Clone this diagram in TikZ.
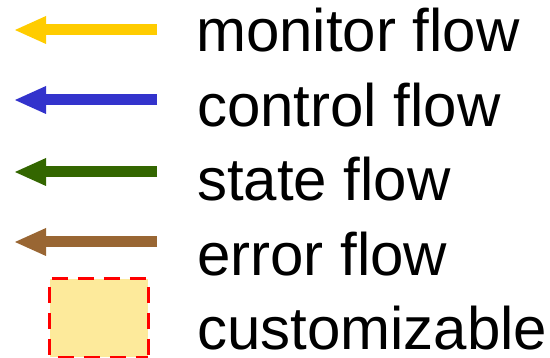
\documentclass[tikz,border=0pt]{standalone}
\usepackage{fontspec}
\setmainfont{Liberation Sans}
\usetikzlibrary{arrows.meta}
\definecolor{monitorc}{HTML}{FFCC00}
\definecolor{controlc}{HTML}{3333CC}
\definecolor{statec}{HTML}{336600}
\definecolor{errorc}{HTML}{996633}
\definecolor{custfill}{HTML}{FDEA9B}
\begin{document}
\begin{tikzpicture}[x=1pt,y=-1pt,
  flowarrow/.style={line width=11pt,
    -{Triangle[length=31pt,width=28pt,line width=0pt]}},
  legendtext/.style={anchor=base west,inner sep=0pt,text depth=0pt,
    font=\fontsize{60}{60}\selectfont},
  custbox/.style={fill=custfill,inner sep=0pt},
  custedge/.style={draw=red,line width=3.3pt,
    dash pattern=on 16pt off 10pt}]
  \useasboundingbox (0,0) rectangle (550,358);
  % arrow ends
  \coordinate (m0) at (157,30);  \coordinate (m1) at (15,30);
  \coordinate (c0) at (157,100); \coordinate (c1) at (15,100);
  \coordinate (s0) at (157,172); \coordinate (s1) at (15,172);
  \coordinate (e0) at (157,242); \coordinate (e1) at (15,242);
  \draw[flowarrow,monitorc] (m0) -- (m1);
  \draw[flowarrow,controlc] (c0) -- (c1);
  \draw[flowarrow,statec] (s0) -- (s1);
  \draw[flowarrow,errorc] (e0) -- (e1);
  % customizable block sample, each edge dashed on its own
  \node[custbox,minimum width=98pt,minimum height=78pt]
    (cust) at (99,318) {};
  \draw[custedge,dash phase=24pt] (cust.north west) -- (cust.north east);
  \draw[custedge,dash phase=18pt] (cust.north west) -- (cust.south west);
  \draw[custedge,dash phase=18pt] (cust.north east) -- (cust.south east);
  \draw[custedge,dash phase=18pt] (cust.south west) -- (cust.south east);
  % labels
  \node[legendtext] (tm) at (196,52) {monitor flow};
  \node[legendtext] (tc) at (197,126.5) {control flow};
  \node[legendtext] (ts) at (197,201) {state flow};
  \node[legendtext] (te) at (197,275.5) {error flow};
  \node[legendtext] (tu) at (197,350) {customizable};
\end{tikzpicture}
\end{document}
